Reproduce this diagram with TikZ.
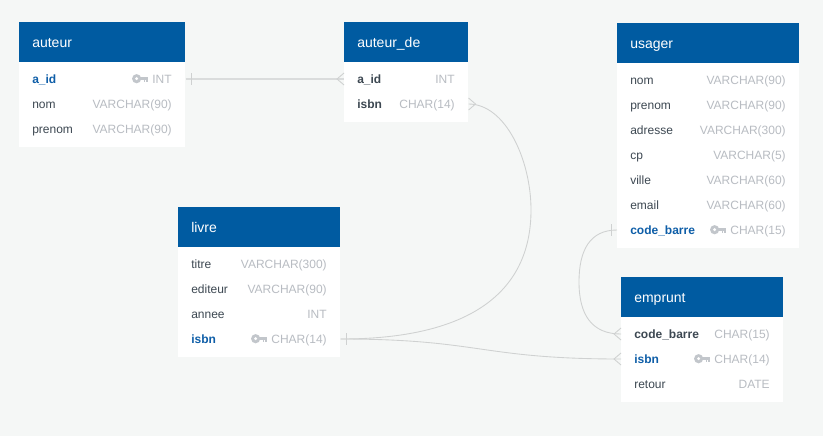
\documentclass[tikz,border=0pt]{standalone}
\usepackage{fontspec}
\setmainfont{Liberation Sans}
\definecolor{bgc}{HTML}{F5F7F6}
\definecolor{headc}{HTML}{005BA1}
\definecolor{namec}{HTML}{3D4852}
\definecolor{pkc}{HTML}{0E5EA8}
\definecolor{typec}{HTML}{B8BCC2}
\definecolor{keyc}{HTML}{C2C6CB}
\definecolor{linec}{HTML}{CFD1D1}
\definecolor{straightc}{HTML}{DADCDC}
\tikzset{
  x=0.75pt, y=-0.75pt,
  header/.style={fill=headc, draw=none, inner sep=0pt, anchor=north west},
  bodybox/.style={fill=white, draw=none, inner sep=0pt, anchor=north west},
  titletext/.style={text=white, font=\fontsize{10.5pt}{12pt}\selectfont, inner sep=0pt, anchor=base west},
  rowbox/.style={draw=none, inner sep=0pt, minimum height=18pt, anchor=west},
  plain/.style={text=namec, font=\fontsize{9pt}{11pt}\selectfont, inner sep=0pt, anchor=base west},
  fk/.style={text=namec, font=\fontsize{9pt}{11pt}\bfseries\selectfont, inner sep=0pt, anchor=base west},
  pk/.style={text=pkc, font=\fontsize{9pt}{11pt}\bfseries\selectfont, inner sep=0pt, anchor=base west},
  typetext/.style={text=typec, font=\fontsize{9pt}{11pt}\selectfont, inner sep=0pt, anchor=base east},
  conn/.style={draw=linec, line width=0.65pt},
  straightconn/.style={draw=straightc, line width=1.1pt},
}
% id, x1, x2, ytop, ybottom, title
\newcommand{\erdtable}[6]{%
  \node[bodybox, minimum width={(#3-#2)*0.75pt}, minimum height={(#5-#4)*0.75pt}] (#1-body) at (#2,#4) {};
  \node[header, minimum width={(#3-#2)*0.75pt}, minimum height=30pt] (#1-head) at (#2,#4) {};
  \node[titletext] (#1-title) at (#2+13,#4+25) {#6};
}
% id, x1, x2, y, style, label, type
\newcommand{\erdrow}[7]{%
  \node[rowbox, minimum width={(#3-#2)*0.75pt}] (#1) at (#2,#4) {};
  \node[#5] (#1-name) at (#2+13,#4+4) {#6};
  \node[typetext] (#1-type) at (#3-13,#4+4) {#7};
}
\newcommand{\keyicon}[1]{%
  \begin{scope}[shift={(#1-type.base west)}]
    \fill[keyc, even odd rule] (-15.5,-4.3) circle[radius=4.6*0.75pt] (-15.5,-4.3) circle[radius=1.9*0.75pt];
    \fill[keyc] (-12,-6.2) rectangle (-4.5,-3);
    \fill[keyc] (-8.5,-3) rectangle (-7,-0.8);
    \fill[keyc] (-6,-3) rectangle (-4.5,-0.8);
  \end{scope}
}
\begin{document}
\begin{tikzpicture}
\useasboundingbox (0,0) rectangle (823,436);
\fill[bgc] (0,0) rectangle (823,436);

\erdtable{auteur}{19}{185}{22}{147}{auteur}
\erdrow{auteur-aid}{19}{185}{79}{pk}{a\_id}{INT}
\keyicon{auteur-aid}
\erdrow{auteur-nom}{19}{185}{104}{plain}{nom}{VARCHAR(90)}
\erdrow{auteur-prenom}{19}{185}{129}{plain}{prenom}{VARCHAR(90)}

\erdtable{ad}{344}{468}{22}{122}{auteur\_de}
\erdrow{ad-aid}{344}{468}{79}{fk}{a\_id}{INT}
\erdrow{ad-isbn}{344}{468}{104}{fk}{isbn}{CHAR(14)}

\erdtable{usager}{617}{799}{23}{248}{usager}
\erdrow{us-nom}{617}{799}{80}{plain}{nom}{VARCHAR(90)}
\erdrow{us-prenom}{617}{799}{105}{plain}{prenom}{VARCHAR(90)}
\erdrow{us-adresse}{617}{799}{130}{plain}{adresse}{VARCHAR(300)}
\erdrow{us-cp}{617}{799}{155}{plain}{cp}{VARCHAR(5)}
\erdrow{us-ville}{617}{799}{180}{plain}{ville}{VARCHAR(60)}
\erdrow{us-email}{617}{799}{205}{plain}{email}{VARCHAR(60)}
\erdrow{us-code}{617}{799}{230}{pk}{code\_barre}{CHAR(15)}
\keyicon{us-code}

\erdtable{livre}{178}{340}{207}{357}{livre}
\erdrow{li-titre}{178}{340}{264}{plain}{titre}{VARCHAR(300)}
\erdrow{li-editeur}{178}{340}{289}{plain}{editeur}{VARCHAR(90)}
\erdrow{li-annee}{178}{340}{314}{plain}{annee}{INT}
\erdrow{li-isbn}{178}{340}{339}{pk}{isbn}{CHAR(14)}
\keyicon{li-isbn}

\erdtable{emprunt}{621}{783}{277}{402}{emprunt}
\erdrow{em-code}{621}{783}{334}{fk}{code\_barre}{CHAR(15)}
\erdrow{em-isbn}{621}{783}{359}{pk}{isbn}{CHAR(14)}
\keyicon{em-isbn}
\erdrow{em-retour}{621}{783}{384}{plain}{retour}{DATE}

% connectors
\draw[straightconn] (auteur-aid.east) -- (ad-aid.west);
\draw[conn] (ad-isbn.east) .. controls +(37,0) and (531,160) .. (531,210)
   .. controls (531,285) and (480,339) .. (li-isbn.east);
\draw[conn] (us-code.west) .. controls +(-27,0) and (579,250) .. (579,282)
   .. controls (579,315) and (592,334) .. (em-code.west);
\draw[conn] (li-isbn.east) .. controls +(140,0) and (480,359) .. (em-isbn.west);

% one-side ticks
\draw[conn] ([xshift=4.5pt,yshift=4.5pt]auteur-aid.east) -- ([xshift=4.5pt,yshift=-4.5pt]auteur-aid.east);
\draw[conn] ([xshift=4.5pt,yshift=4.5pt]li-isbn.east) -- ([xshift=4.5pt,yshift=-4.5pt]li-isbn.east);
\draw[conn] ([xshift=-4.5pt,yshift=4.5pt]us-code.west) -- ([xshift=-4.5pt,yshift=-4.5pt]us-code.west);
% crow's feet
\draw[conn] ([yshift=4.5pt]ad-aid.west) -- ([xshift=-5.25pt]ad-aid.west) -- ([yshift=-4.5pt]ad-aid.west);
\draw[conn] ([yshift=4.5pt]ad-isbn.east) -- ([xshift=5.25pt]ad-isbn.east) -- ([yshift=-4.5pt]ad-isbn.east);
\draw[conn] ([yshift=4.5pt]em-code.west) -- ([xshift=-5.25pt]em-code.west) -- ([yshift=-4.5pt]em-code.west);
\draw[conn] ([yshift=4.5pt]em-isbn.west) -- ([xshift=-5.25pt]em-isbn.west) -- ([yshift=-4.5pt]em-isbn.west);
\end{tikzpicture}
\end{document}
